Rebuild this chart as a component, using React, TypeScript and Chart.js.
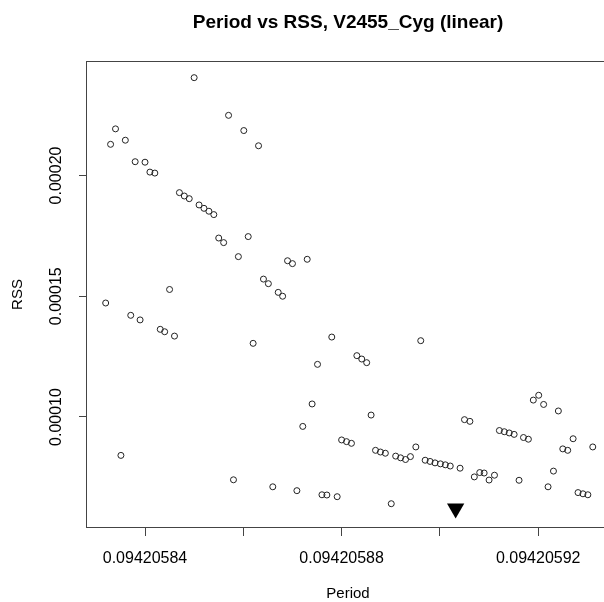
import React, { useEffect, useRef } from "react";
import { Chart, registerables } from "chart.js";

Chart.register(...registerables);

// Period values (observed)
const periods = [
  0.0942058500, 0.0942058570, 0.0942058601, 0.0942058631, 0.0942058340, 0.0942058330,
  0.0942058360, 0.0942058380, 0.0942058400, 0.0942058410, 0.0942058420, 0.0942058470,
  0.0942058480, 0.0942058490, 0.0942058510, 0.0942058520, 0.0942058530, 0.0942058540,
  0.0942058550, 0.0942058560, 0.0942058610, 0.0942058590, 0.0942058690, 0.0942058700,
  0.0942058730, 0.0942058641, 0.0942058651, 0.0942058671, 0.0942058680, 0.0942058450,
  0.0942058320, 0.0942058371, 0.0942058390, 0.0942058431, 0.0942058440, 0.0942058460,
  0.0942058620, 0.0942058351, 0.0942058580, 0.0942058660, 0.0942058709, 0.0942058780,
  0.0942058751, 0.0942058831, 0.0942058841, 0.0942058851, 0.0942058961, 0.0942058740,
  0.0942058860, 0.0942058721, 0.0942058800, 0.0942058810, 0.0942058820, 0.0942058869,
  0.0942058879, 0.0942058889, 0.0942058910, 0.0942058920, 0.0942058930, 0.0942058940,
  0.0942058951, 0.0942058970, 0.0942058980, 0.0942058990, 0.0942059001, 0.0942059011,
  0.0942059021, 0.0942059041, 0.0942059050, 0.0942059061, 0.0942059070, 0.0942059081,
  0.0942059090, 0.0942059100, 0.0942059111, 0.0942059121, 0.0942059131, 0.0942059141,
  0.0942059151, 0.0942059170, 0.0942059180, 0.0942059161, 0.0942059190, 0.0942059201,
  0.0942059211, 0.0942059241, 0.0942059271, 0.0942059250, 0.0942059260, 0.0942059311,
  0.0942059231, 0.0942059220, 0.0942059281, 0.0942059291, 0.0942059301, 0.0942058760,
  0.0942058770, 0.0942058791, 0.0942058901,
];

// RSS values (observed), same order as periods
const rssValues = [
  0.0002405, 0.0002249, 0.0002186, 0.0002123, 0.0002193, 0.0002129,
  0.0002146, 0.0002057, 0.0002055, 0.0002014, 0.0002010, 0.0001929,
  0.0001915, 0.0001904, 0.0001878, 0.0001864, 0.0001852, 0.0001838,
  0.0001741, 0.0001722, 0.0001747, 0.0001664, 0.0001647, 0.0001635,
  0.0001653, 0.0001571, 0.0001552, 0.0001516, 0.0001500, 0.0001528,
  0.0001472, 0.0001421, 0.0001402, 0.0001363, 0.0001353, 0.0001335,
  0.0001305, 0.0000841, 0.0000740, 0.0000711, 0.0000695, 0.0001331,
  0.0001218, 0.0001254, 0.0001240, 0.0001225, 0.0001316, 0.0001054,
  0.0001008, 0.0000961, 0.0000905, 0.0000898, 0.0000891, 0.0000862,
  0.0000855, 0.0000850, 0.0000838, 0.0000831, 0.0000824, 0.0000836,
  0.0000876, 0.0000821, 0.0000816, 0.0000810, 0.0000806, 0.0000802,
  0.0000797, 0.0000788, 0.0000989, 0.0000982, 0.0000752, 0.0000770,
  0.0000768, 0.0000739, 0.0000759, 0.0000944, 0.0000939, 0.0000934,
  0.0000928, 0.0000915, 0.0000908, 0.0000738, 0.0001070, 0.0001090,
  0.0001052, 0.0001025, 0.0000910, 0.0000868, 0.0000862, 0.0000876,
  0.0000776, 0.0000711, 0.0000687, 0.0000682, 0.0000678, 0.0000678,
  0.0000677, 0.0000670, 0.0000641,
];

// Selected (best) period marker
const bestPeriod = [0.0942059032];
const bestRss = [0.0000621];

// Axis ticks
const xTickValues = [0.09420584, 0.09420586, 0.09420588, 0.0942059, 0.09420592];
const xTickLabels = ["0.09420584", "", "0.09420588", "", "0.09420592"];
const yTickValues = [0.0001, 0.00015, 0.0002];
const yTickLabels = ["0.00010", "0.00015", "0.00020"];

// Axis ranges
const xMin = 0.0942058282;
const xMax = 0.0942059344;
const yMin = 0.00005404;
const yMax = 0.0002474;

const titleText = "Period vs RSS, V2455_Cyg (linear)";
const xTitle = "Period";
const yTitle = "RSS";

const FONT = "'Liberation Sans', Arial, Helvetica, sans-serif";
const FRAME = "#444444";

const framePlugin = {
  id: "frame",
  afterDatasetsDraw(chart: any) {
    const { ctx, chartArea } = chart;
    ctx.save();
    ctx.strokeStyle = FRAME;
    ctx.lineWidth = 1;
    ctx.strokeRect(
      Math.round(chartArea.left) - 0.5,
      Math.round(chartArea.top) + 0.5,
      Math.round(chartArea.right - chartArea.left) + 1,
      Math.round(chartArea.bottom - chartArea.top) - 1
    );
    ctx.restore();
  },
};

export default function App() {
  const ref = useRef<HTMLCanvasElement | null>(null);

  useEffect(() => {
    if (!ref.current) return;
    const chart = new Chart(ref.current, {
      type: "scatter",
      data: {
        datasets: [
          {
            data: periods.map((p, i) => ({ x: p, y: rssValues[i] })),
            pointStyle: "circle",
            pointRadius: 3,
            pointBorderWidth: 1,
            borderColor: "#222222",
            backgroundColor: "rgba(0,0,0,0)",
          },
          {
            data: bestPeriod.map((p, i) => ({ x: p, y: bestRss[i] })),
            pointStyle: "triangle",
            pointRotation: 180,
            pointRadius: 10,
            pointBorderWidth: 0,
            borderColor: "#000000",
            backgroundColor: "#000000",
          },
        ],
      },
      options: {
        responsive: false,
        animation: false,
        devicePixelRatio: 1,
        layout: { autoPadding: false, padding: { left: 0, top: 0, right: 3, bottom: 0 } },
        plugins: {
          legend: { display: false },
          tooltip: { enabled: false },
          title: {
            display: true,
            text: titleText,
            fullSize: false,
            color: "#000000",
            font: { family: FONT, size: 19, weight: "bold", lineHeight: 1.2 },
            padding: { top: 11, bottom: 27.2 },
          },
        },
        scales: {
          x: {
            type: "linear",
            min: xMin,
            max: xMax,
            afterBuildTicks: (scale: any) => {
              scale.ticks = xTickValues.map((v) => ({ value: v }));
            },
            afterFit: (scale: any) => {
              scale.height = 84;
              scale.paddingLeft = 0;
              scale.paddingRight = 0;
              scale.paddingTop = 0;
              scale.paddingBottom = 0;
            },
            border: { display: false },
            grid: {
              display: true,
              drawOnChartArea: false,
              drawTicks: true,
              tickLength: 8,
              color: FRAME,
              lineWidth: 1,
            },
            ticks: {
              autoSkip: false,
              maxRotation: 0,
              minRotation: 0,
              padding: 13,
              color: "#000000",
              font: { family: FONT, size: 16 },
              callback: (_v: any, i: number) => xTickLabels[i] ?? "",
            },
            title: {
              display: true,
              text: xTitle,
              color: "#000000",
              font: { family: FONT, size: 15, lineHeight: 1.2 },
              padding: { top: 0, bottom: 9 },
            },
          },
          y: {
            type: "linear",
            min: yMin,
            max: yMax,
            afterBuildTicks: (scale: any) => {
              scale.ticks = yTickValues.map((v) => ({ value: v }));
            },
            afterFit: (scale: any) => {
              scale.width = 87;
              scale.paddingLeft = 0;
              scale.paddingRight = 0;
              scale.paddingTop = 0;
              scale.paddingBottom = 0;
            },
            border: { display: false },
            grid: {
              display: true,
              drawOnChartArea: false,
              drawTicks: true,
              tickLength: 8,
              color: FRAME,
              lineWidth: 1,
            },
            ticks: {
              autoSkip: false,
              minRotation: 90,
              maxRotation: 90,
              crossAlign: "center",
              padding: -7,
              color: "#000000",
              font: { family: FONT, size: 16 },
              callback: (_v: any, i: number) => yTickLabels[i] ?? "",
            },
            title: {
              display: true,
              text: yTitle,
              color: "#000000",
              font: { family: FONT, size: 15, lineHeight: 1.2 },
              padding: { top: 8.5, bottom: 0 },
            },
          },
        },
      },
      plugins: [framePlugin],
    });
    return () => chart.destroy();
  }, []);

  return (
    <div
      style={{
        position: "fixed",
        left: 0,
        top: 0,
        width: 604,
        height: 602,
        overflow: "hidden",
        background: "#ffffff",
      }}
    >
      <canvas
        ref={ref}
        width={612}
        height={612}
        style={{ display: "block", width: 612, height: 612 }}
      />
    </div>
  );
}
